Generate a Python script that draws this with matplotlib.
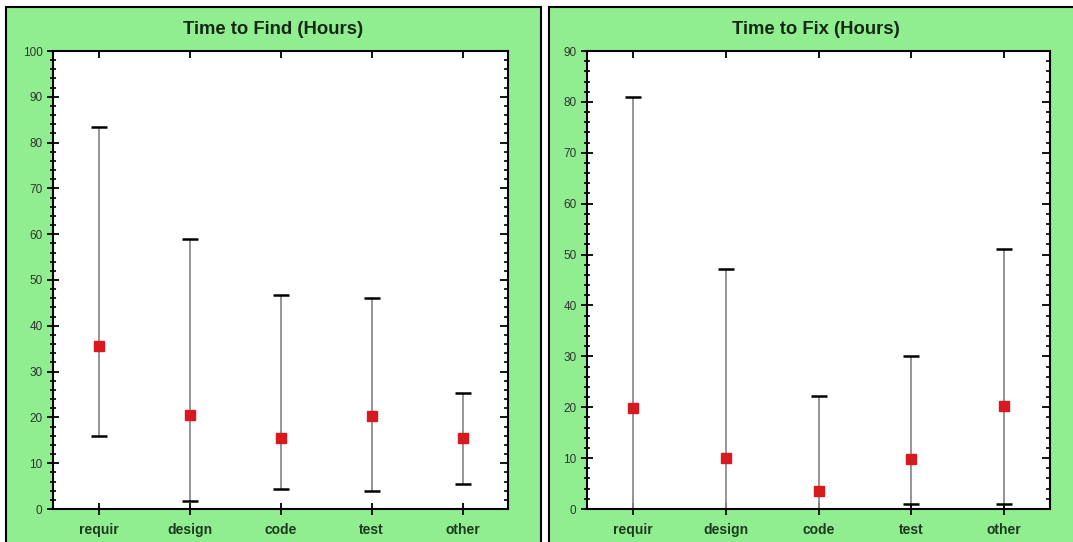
import matplotlib.pyplot as plt
from matplotlib.patches import Rectangle
from matplotlib.ticker import MultipleLocator

categories = ["requir", "design", "code", "test", "other"]

find_mean = [35.5, 20.5, 15.5, 20.3, 15.5]
find_low = [16.0, 1.8, 4.3, 3.9, 5.4]
find_high = [83.4, 59.0, 46.7, 46.0, 25.3]

fix_mean = [19.9, 10.1, 3.5, 9.9, 20.3]
fix_low = [0.0, 0.0, 0.0, 1.0, 1.0]
fix_high = [81.0, 47.1, 22.2, 30.0, 51.0]

W, H = 1073, 542
green = "#90ee90"

fig = plt.figure(figsize=(W / 100, H / 100), dpi=100)
fig.patch.set_facecolor("white")
plt.rcParams["font.family"] = ["Liberation Sans", "DejaVu Sans"]

# green panels behind each chart
for x0, x1 in [(6, 541), (549, 1080)]:
    fig.patches.append(Rectangle((x0 / W, -5 / H), (x1 - x0) / W, (H - 2) / H,
                                 transform=fig.transFigure, facecolor=green,
                                 edgecolor="black", linewidth=1.5, zorder=-10))


def draw(rect, mean, low, high, ymax, title, title_x):
    ax = fig.add_axes(rect)
    ax.set_facecolor("white")
    x = list(range(len(categories)))
    err = [[m - l for m, l in zip(mean, low)], [h - m for m, h in zip(mean, high)]]
    ax.errorbar(x, mean, yerr=err, fmt="none", ecolor="#8c8c8c", elinewidth=1.3,
                capsize=6, capthick=1.8, zorder=2)
    # caps are black while the stems are gray
    eb = ax.containers[-1]
    for cap in eb[1]:
        cap.set_markeredgecolor("black")
    ax.plot(x, mean, "s", color="#d71920", markersize=6.5, zorder=3, clip_on=False)

    ax.set_xlim(-0.5, len(categories) - 0.5)
    ax.set_ylim(0, ymax)
    ax.set_xticks(x)
    ax.set_xticklabels(categories, fontsize=10, fontweight="bold", color="#1e3a1e")
    ax.yaxis.set_major_locator(MultipleLocator(10))
    ax.yaxis.set_minor_locator(MultipleLocator(2))
    ax.tick_params(axis="y", which="major", direction="inout", length=9, width=1.3,
                   labelsize=8.5, labelcolor="#333333", right=True, pad=3)
    ax.tick_params(axis="y", which="minor", direction="inout", length=5, width=1.2, right=True)
    ax.tick_params(axis="x", which="major", direction="inout", length=8, width=1.3,
                   top=True, pad=6)
    for spine in ax.spines.values():
        spine.set_linewidth(1.5)
    fig.text(title_x / W, 1 - 29 / H, title, ha="center", va="center",
             fontsize=13.3, fontweight="bold", color="#142814")
    return ax


ax1 = draw([53 / W, 33 / H, 455 / W, 458 / H], find_mean, find_low, find_high, 100,
           "Time to Find (Hours)", 273)
ax2 = draw([587 / W, 33 / H, 463 / W, 458 / H], fix_mean, fix_low, fix_high, 90,
           "Time to Fix (Hours)", 816)

# ticks on the right and top edges point inward only
for ax in (ax1, ax2):
    for t in ax.yaxis.get_major_ticks():
        t.tick2line.set_marker(0)
        t.tick2line.set_markersize(6)
    for t in ax.yaxis.get_minor_ticks():
        t.tick2line.set_marker(0)
        t.tick2line.set_markersize(3)
    for t in ax.xaxis.get_major_ticks():
        t.tick2line.set_marker(3)
        t.tick2line.set_markersize(5)

fig.savefig("out.png", dpi=100, facecolor=fig.get_facecolor())
